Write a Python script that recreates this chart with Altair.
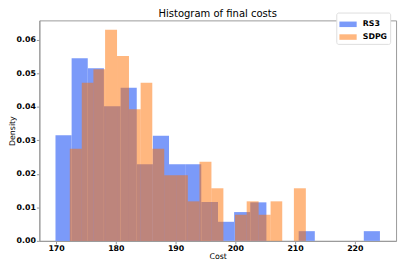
import altair as alt
import pandas as pd

# Bin edges (left edges, last right edge) and densities
rs3_edges = [169.9, 172.6, 175.3, 178.0, 180.8, 183.5, 186.2, 188.9, 191.6, 194.3,
             197.1, 199.8, 202.5, 205.2, 207.9, 210.6, 213.3, 216.1, 218.8, 221.5, 224.2]
rs3_density = [0.0315, 0.0545, 0.0515, 0.0402, 0.0457, 0.0229, 0.0314, 0.0229, 0.0229, 0.0116,
               0.0057, 0.0086, 0.0115, 0.0, 0.0, 0.0029, 0.0, 0.0, 0.0, 0.0029]

sdpg_edges = [172.3, 174.3, 176.25, 178.2, 180.2, 182.2, 184.15, 186.1, 188.1, 190.1,
              192.05, 194.0, 196.0, 198.0, 199.95, 201.9, 203.9, 205.9, 207.85, 209.8, 211.8]
sdpg_density = [0.0275, 0.0472, 0.0512, 0.0630, 0.0552, 0.0393, 0.0472, 0.0275, 0.0196, 0.0196,
                0.0118, 0.0236, 0.0157, 0.0, 0.0078, 0.0118, 0.0078, 0.0118, 0.0, 0.0157]

series_names = ["RS3", "SDPG"]
series_colors = ["#7b9af9", "#ff6f00"]
series_opacity = [1.0, 0.5]

x_ticks = [170, 180, 190, 200, 210, 220]
y_ticks = [0.0, 0.01, 0.02, 0.03, 0.04, 0.05, 0.06]

rows = []
for name, edges, dens in [("RS3", rs3_edges, rs3_density), ("SDPG", sdpg_edges, sdpg_density)]:
    for i, d in enumerate(dens):
        rows.append({"series": name, "x0": edges[i], "x1": edges[i + 1], "density": d})
df = pd.DataFrame(rows)

FONT = "DejaVu Sans"

legend = alt.Legend(
    title=None,
    orient="none",
    legendX=303,
    legendY=-8,
    symbolType="M-1,-0.32L1,-0.32L1,0.32L-1,0.32Z",
    symbolSize=310,
    symbolStrokeWidth=0,
    labelFont=FONT,
    labelFontSize=8,
    labelFontWeight="bold",
    labelOffset=6,
    rowPadding=-5,
    padding=3,
    strokeColor="#dddddd",
    fillColor="white",
    cornerRadius=2,
)

chart = alt.Chart(df).mark_rect(strokeWidth=0).encode(
    x=alt.X("x0:Q",
            scale=alt.Scale(domain=[167.2, 226.9], nice=False, zero=False),
            axis=alt.Axis(values=x_ticks, format="d", title="Cost",
                          titleY=12, titleBaseline="top")),
    x2="x1:Q",
    y=alt.Y("density:Q",
            scale=alt.Scale(domain=[0, 0.0658], nice=False),
            axis=alt.Axis(values=y_ticks, format=".2f", title="Density",
                          titleX=-31, titleBaseline="top")),
    y2=alt.datum(0),
    color=alt.Color("series:N",
                    scale=alt.Scale(domain=series_names, range=series_colors),
                    legend=legend),
    opacity=alt.Opacity("series:N",
                        scale=alt.Scale(domain=series_names, range=series_opacity),
                        legend=legend),
).properties(
    width=364,
    height=225,
    autosize=alt.AutoSizeParams(type="none"),
    padding={"left": 32, "top": 10, "right": 3, "bottom": 24},
    title=alt.TitleParams("Histogram of final costs", font=FONT, fontSize=10.2,
                          fontWeight="normal", anchor="middle", frame="group",
                          offset=0, dy=7.5, color="black"),
).configure_view(
    stroke="#999999", strokeWidth=1
).configure_axis(
    grid=False,
    labelFont=FONT,
    labelFontSize=8,
    labelFontWeight="bold",
    labelColor="black",
    labelPadding=1,
    tickSize=3,
    tickColor="#999999",
    domainColor="#999999",
    titleFont=FONT,
    titleFontSize=8,
    titleFontWeight="normal",
    titleColor="black",
)

chart.save("out.html", embed_options={"renderer": "svg", "actions": False})
